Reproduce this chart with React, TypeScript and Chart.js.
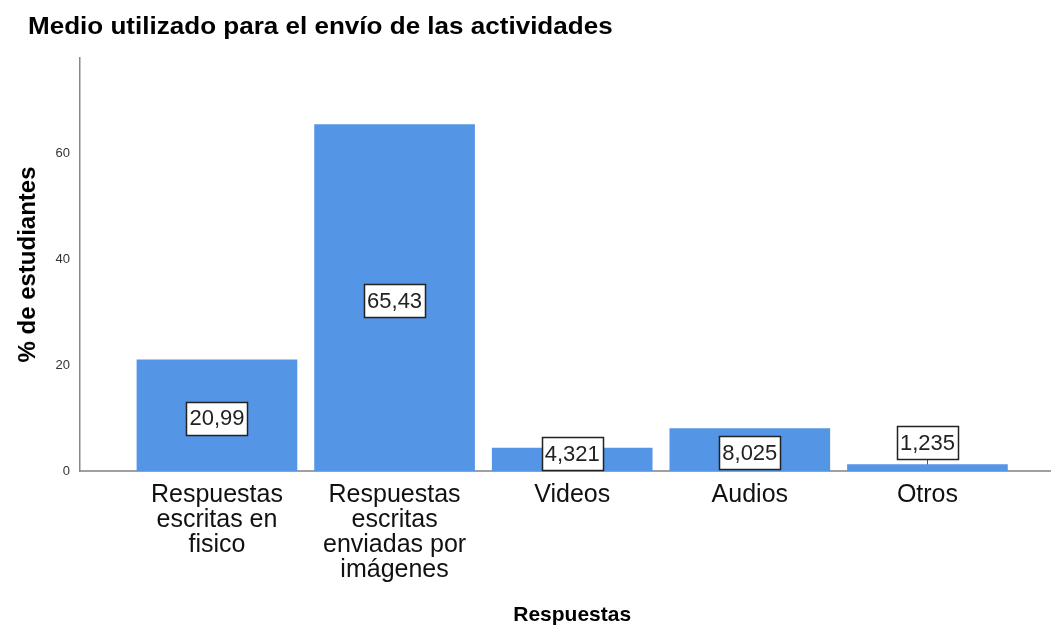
import React, { useEffect, useRef } from "react";
import { Chart, registerables } from "chart.js";

Chart.register(...registerables);

const title = "Medio utilizado para el envío de las actividades";
const categories = [
  ["Respuestas", "escritas en", "fisico"],
  ["Respuestas", "escritas", "enviadas por", "imágenes"],
  ["Videos"],
  ["Audios"],
  ["Otros"],
];
const values = [20.99, 65.43, 4.321, 8.025, 1.235];
const valueLabels = ["20,99", "65,43", "4,321", "8,025", "1,235"];
const yTicks = [0, 20, 40, 60];
const yTitle = "% de estudiantes";
const xTitle = "Respuestas";

const FONT = "'Liberation Sans', Arial, sans-serif";
const BAR = "#5595E5";

const overlay = {
  id: "overlay",
  afterDatasetsDraw(chart: any) {
    const ctx = chart.ctx;
    const ys = chart.scales.y;
    const xs = chart.scales.x;
    const area = chart.chartArea;
    const zeroY = ys.getPixelForValue(0);
    ctx.save();
    // data labels
    ctx.font = `22px ${FONT}`;
    ctx.textAlign = "center";
    ctx.textBaseline = "middle";
    const boxH = 33;
    values.forEach((v, i) => {
      const cx = xs.getPixelForValue(i);
      const topY = ys.getPixelForValue(v);
      const text = valueLabels[i];
      const w = ctx.measureText(text).width + 6;
      let cy;
      let leader = false;
      if (zeroY - topY < 12) {
        cy = topY - 5 - boxH / 2;
        leader = true;
      } else {
        cy = Math.min(ys.getPixelForValue(v / 2) + 3, zeroY - 1 - boxH / 2);
      }
      if (leader) {
        ctx.strokeStyle = "#555";
        ctx.lineWidth = 1;
        ctx.beginPath();
        ctx.moveTo(Math.round(cx) + 0.5, cy + boxH / 2);
        ctx.lineTo(Math.round(cx) + 0.5, topY);
        ctx.stroke();
      }
      const bx = Math.round(cx - w / 2) + 0.5;
      const by = Math.round(cy - boxH / 2) + 0.5;
      ctx.fillStyle = "#fff";
      ctx.fillRect(bx, by, Math.round(w), boxH);
      ctx.strokeStyle = "#222";
      ctx.lineWidth = 1.5;
      ctx.strokeRect(bx, by, Math.round(w), boxH);
      ctx.fillStyle = "#222";
      ctx.fillText(text, cx, cy + 1);
    });
    // title
    ctx.fillStyle = "#000";
    ctx.textAlign = "left";
    ctx.textBaseline = "alphabetic";
    ctx.save();
    ctx.translate(28, 34);
    ctx.scale(1.085, 1);
    ctx.font = `bold 24px ${FONT}`;
    ctx.fillText(title, 0, 0);
    ctx.restore();
    // x title
    ctx.textAlign = "center";
    ctx.font = `bold 21px ${FONT}`;
    const mid = (xs.getPixelForValue(0) + xs.getPixelForValue(values.length - 1)) / 2;
    ctx.fillText(xTitle, mid, 621);
    // y title
    ctx.save();
    ctx.translate(35, (area.top + area.bottom) / 2 + 0);
    ctx.rotate(-Math.PI / 2);
    ctx.font = `bold 24px ${FONT}`;
    ctx.fillText(yTitle, 0, 0);
    ctx.restore();
    ctx.restore();
  },
};

export default function App() {
  const ref = useRef<HTMLCanvasElement>(null);
  useEffect(() => {
    if (!ref.current) return;
    const chart = new Chart(ref.current, {
      type: "bar",
      data: {
        datasets: [
          {
            data: values.map((v, i) => ({ x: i, y: v })),
            backgroundColor: BAR,
            borderWidth: 0,
            barThickness: 160,
          },
        ],
      },
      options: {
        responsive: false,
        animation: false,
        layout: { padding: { left: 0, top: 58, right: 3, bottom: 0 } },
        plugins: { legend: { display: false }, tooltip: { enabled: false } },
        scales: {
          x: {
            type: "linear",
            offset: false,
            min: -0.771,
            max: 4.69,
            grid: { display: false, drawTicks: false },
            border: { color: "#a0a0a0", width: 2 },
            afterBuildTicks: (s: any) => {
              s.ticks = categories.map((_, i) => ({ value: i }));
            },
            afterFit: (s: any) => {
              s.height = 156;
            },
            ticks: {
              autoSkip: false,
              maxRotation: 0,
              padding: 12,
              color: "#111",
              font: { family: FONT, size: 25, lineHeight: "25px" } as any,
              callback: (v: any) => categories[v] ?? "",
            },
          },
          y: {
            min: 0,
            max: 78,
            grid: { display: false, drawTicks: false },
            border: { color: "#888", width: 1.5 },
            afterBuildTicks: (s: any) => {
              s.ticks = yTicks.map((v) => ({ value: v }));
            },
            afterFit: (s: any) => {
              s.width = 80;
            },
            ticks: {
              padding: 10,
              color: "#333",
              font: { family: FONT, size: 13 },
            },
          },
        },
      },
      plugins: [overlay],
    });
    return () => chart.destroy();
  }, []);
  return (
    <div style={{ position: "absolute", left: 0, top: 0, width: 1053, height: 627, background: "#fff" }}>
      <canvas ref={ref} width={1053} height={627} style={{ display: "block" }} />
    </div>
  );
}
